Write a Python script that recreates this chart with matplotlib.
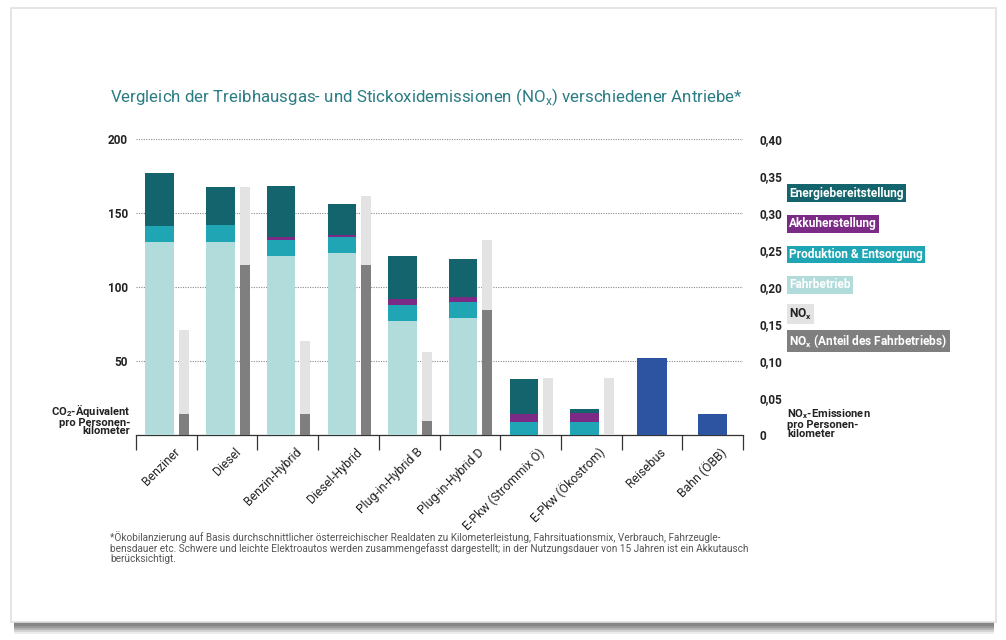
import matplotlib
matplotlib.use("Agg")
import matplotlib.pyplot as plt
import numpy as np
from matplotlib.patches import Rectangle
import matplotlib.transforms as mtransforms

plt.rcParams['font.family'] = ['Roboto', 'DejaVu Sans']

categories = ["Benziner", "Diesel", "Benzin-Hybrid", "Diesel-Hybrid", "Plug-in-Hybrid B",
              "Plug-in-Hybrid D", "E-Pkw (Strommix Ö)", "E-Pkw (Ökostrom)", "Reisebus", "Bahn (ÖBB)"]
# CO2-equivalent components (g per passenger-km), first 8 categories
fahrbetrieb = [130.5, 130.8, 121.0, 123.0, 77.2, 79.3, 0, 0]
produktion = [10.7, 11.0, 10.7, 10.8, 10.8, 10.7, 9.2, 9.2]
akku = [0, 0, 2.1, 1.3, 3.9, 3.2, 5.0, 5.7]
energie = [35.8, 26.3, 34.4, 21.2, 29.0, 26.1, 23.6, 3.1]
# Reisebus, Bahn totals (blue)
oeffi_labels = ["Reisebus", "Bahn (ÖBB)"]
oeffi_values = [52.2, 14.2]
# NOx (g per passenger-km), first 8 categories
nox_total = [0.142, 0.336, 0.127, 0.323, 0.112, 0.264, 0.077, 0.077]
nox_fahr = [0.029, 0.230, 0.029, 0.230, 0.019, 0.170, 0, 0]

left_ticks = [0, 50, 100, 150, 200]
left_ticklabels = ["", "50", "100", "150", "200"]
right_ticks = [0, 0.05, 0.10, 0.15, 0.20, 0.25, 0.30, 0.35, 0.40]
right_ticklabels = ["0", "0,05", "0,10", "0,15", "0,20", "0,25", "0,30", "0,35", "0,40"]

c_energie = "#13646c"
c_akku = "#7b2a85"
c_prod = "#1fa5b4"
c_fahr = "#b2dbdb"
c_nox = "#e3e3e3"
c_noxf = "#7f7f7f"
c_blue = "#2c54a0"
c_title = "#2a7c84"

W, H = 1006, 640
fig = plt.figure(figsize=(W / 100, H / 100), dpi=100)
fig.patch.set_facecolor("white")

# card shadow / frame
for i, a in enumerate([0.12, 0.2, 0.3, 0.4, 0.45]):
    fig.patches.append(Rectangle((14 / W, (H - 634 + i * 2) / H), (W - 26) / W, 12 / H,
                                 transform=fig.transFigure, facecolor="#707070",
                                 alpha=a, edgecolor="none", zorder=0))
fig.patches.append(Rectangle((11 / W, (H - 622) / H), (996 - 11) / W, (622 - 8) / H,
                             transform=fig.transFigure, facecolor="white",
                             edgecolor="#e0e0e0", linewidth=1.2, zorder=1))

ax = fig.add_axes([136 / W, (H - 435.3) / H, 607 / W, 296 / H])
ax.set_zorder(3)
ax.patch.set_alpha(0)
ax2 = ax.twinx()

n_main = len(fahrbetrieb)
x_main = np.arange(n_main) - 0.11
x_nox = np.arange(n_main) + 0.29
wm, wn = 0.47, 0.165

b1 = np.array(fahrbetrieb)
b2 = b1 + np.array(produktion)
b3 = b2 + np.array(akku)
ax.bar(x_main, fahrbetrieb, wm, color=c_fahr, zorder=3)
ax.bar(x_main, produktion, wm, bottom=b1, color=c_prod, zorder=3)
ax.bar(x_main, akku, wm, bottom=b2, color=c_akku, zorder=3)
ax.bar(x_main, energie, wm, bottom=b3, color=c_energie, zorder=3)
ax.bar([8, 9], oeffi_values, 0.48, color=c_blue, zorder=3)

ax2.bar(x_nox, nox_total, wn, color=c_nox, zorder=3)
ax2.bar(x_nox, nox_fahr, wn, color=c_noxf, zorder=4)

ax.set_xlim(-0.5, 9.5)
ax.set_ylim(0, 200)
ax2.set_ylim(0, 0.4)

for s in ["top", "right", "left"]:
    ax.spines[s].set_visible(False)
    ax2.spines[s].set_visible(False)
ax2.spines["bottom"].set_visible(False)
ax.spines["bottom"].set_color("#333333")
ax.spines["bottom"].set_linewidth(0.9)

ax.set_yticks(left_ticks)
ax.set_yticklabels(left_ticklabels, fontsize=8.5, fontweight="bold", color="#222222")
ax.tick_params(axis="y", length=0, pad=6)
ax.yaxis.grid(True, linestyle=(0, (1, 1.2)), color="#8a8a8a", linewidth=0.8)
ax.set_axisbelow(True)

ax2.set_yticks(right_ticks)
ax2.set_yticklabels(right_ticklabels, fontsize=8.5, fontweight="bold", color="#222222")
ax2.tick_params(axis="y", length=0, pad=12)

ax.set_xticks(np.arange(-0.5, 10, 1.0), minor=True)
ax.set_xticks(np.arange(10))
ax.set_xticklabels([])
ax.tick_params(axis="x", which="major", length=0)
ax.tick_params(axis="x", which="minor", length=11, width=0.9, color="#333333", direction="out")

trans = mtransforms.blended_transform_factory(ax.transData, ax.transAxes)
for i, lab in enumerate(categories):
    ax.text(i + 0.12, -0.035, lab, transform=trans, rotation=45, ha="right", va="top",
            rotation_mode="anchor", fontsize=8.8, color="#222222")

# Title
fig.text(110 / W, 1 - 97 / H, r"Vergleich der Treibhausgas- und Stickoxidemissionen (NO$_\mathregular{x}$) verschiedener Antriebe*",
         fontsize=12.2, color=c_title, ha="left", va="center")

# axis notes
fig.text(130 / W, 1 - 419 / H, "CO$_\\mathregular{2}$-Äquivalent\npro Personen-\nkilometer",
         fontsize=8, fontweight="bold", ha="right", va="center", linespacing=0.85, color="#222222")
fig.text(787 / W, 1 - 423 / H, "NO$_\\mathregular{x}$-Emissionen\npro Personen-\nkilometer",
         fontsize=8, fontweight="semibold", ha="left", va="center", linespacing=0.85, color="#222222")

# legend boxes
legend_items = [
    ("Energiebereitstellung", c_energie, "white", 193),
    ("Akkuherstellung", c_akku, "white", 224),
    ("Produktion & Entsorgung", c_prod, "white", 254.5),
    ("Fahrbetrieb", c_fahr, "white", 285),
    ("NO$_\\mathregular{x}$", c_nox, "#222222", 314),
    ("NO$_\\mathregular{x}$ (Anteil des Fahrbetriebs)", c_noxf, "white", 341),
]
for txt, bg, fg, yy in legend_items:
    fig.text(789 / W, 1 - yy / H, txt, fontsize=8.6, fontweight="bold", color=fg,
             ha="left", va="center",
             bbox=dict(boxstyle="square,pad=0.2", facecolor=bg, edgecolor="none"))

footnote = ("*Ökobilanzierung auf Basis durchschnittlicher österreichischer Realdaten zu Kilometerleistung, Fahrsituationsmix, Verbrauch, Fahrzeugle-\n"
            "bensdauer etc. Schwere und leichte Elektroautos werden zusammengefasst dargestellt; in der Nutzungsdauer von 15 Jahren ist ein Akkutausch\n"
            "berücksichtigt.")
fig.text(110 / W, 1 - 531 / H, footnote, fontsize=7.2, color="#555555", ha="left", va="top", linespacing=1.0)

fig.savefig("out.png", dpi=100)
